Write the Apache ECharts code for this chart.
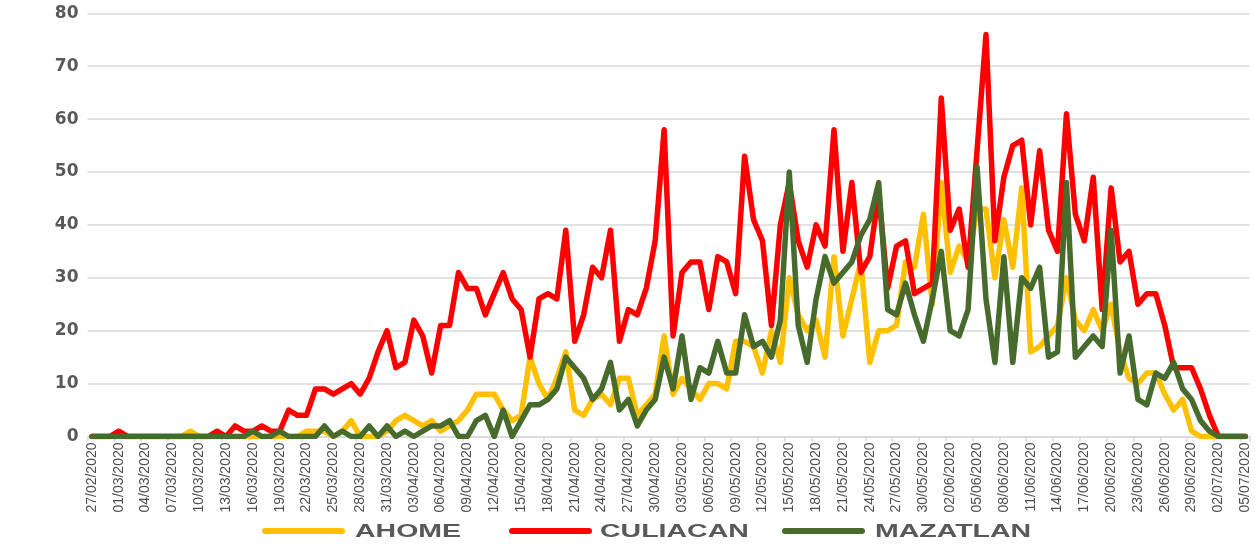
<!DOCTYPE html>
<html>
<head>
<meta charset="utf-8">
<script src="https://cdn.jsdelivr.net/npm/echarts@6/dist/echarts.min.js"></script>
<style>
  html, body { margin: 0; padding: 0; background: #ffffff; }
  #chart { width: 1255px; height: 549px; }
</style>
</head>
<body>
<div id="chart"></div>
<script>
// Daily dates, 27/02/2020 – 05/07/2020
const dates = [
  '27/02/2020','28/02/2020','29/02/2020',
  '01/03/2020','02/03/2020','03/03/2020','04/03/2020','05/03/2020','06/03/2020','07/03/2020','08/03/2020','09/03/2020','10/03/2020',
  '11/03/2020','12/03/2020','13/03/2020','14/03/2020','15/03/2020','16/03/2020','17/03/2020','18/03/2020','19/03/2020','20/03/2020',
  '21/03/2020','22/03/2020','23/03/2020','24/03/2020','25/03/2020','26/03/2020','27/03/2020','28/03/2020','29/03/2020','30/03/2020','31/03/2020',
  '01/04/2020','02/04/2020','03/04/2020','04/04/2020','05/04/2020','06/04/2020','07/04/2020','08/04/2020','09/04/2020','10/04/2020',
  '11/04/2020','12/04/2020','13/04/2020','14/04/2020','15/04/2020','16/04/2020','17/04/2020','18/04/2020','19/04/2020','20/04/2020',
  '21/04/2020','22/04/2020','23/04/2020','24/04/2020','25/04/2020','26/04/2020','27/04/2020','28/04/2020','29/04/2020','30/04/2020',
  '01/05/2020','02/05/2020','03/05/2020','04/05/2020','05/05/2020','06/05/2020','07/05/2020','08/05/2020','09/05/2020','10/05/2020',
  '11/05/2020','12/05/2020','13/05/2020','14/05/2020','15/05/2020','16/05/2020','17/05/2020','18/05/2020','19/05/2020','20/05/2020',
  '21/05/2020','22/05/2020','23/05/2020','24/05/2020','25/05/2020','26/05/2020','27/05/2020','28/05/2020','29/05/2020','30/05/2020','31/05/2020',
  '01/06/2020','02/06/2020','03/06/2020','04/06/2020','05/06/2020','06/06/2020','07/06/2020','08/06/2020','09/06/2020','10/06/2020',
  '11/06/2020','12/06/2020','13/06/2020','14/06/2020','15/06/2020','16/06/2020','17/06/2020','18/06/2020','19/06/2020','20/06/2020',
  '21/06/2020','22/06/2020','23/06/2020','24/06/2020','25/06/2020','26/06/2020','27/06/2020','28/06/2020','29/06/2020','30/06/2020',
  '01/07/2020','02/07/2020','03/07/2020','04/07/2020','05/07/2020'
];

// Daily new cases per municipality
const ahome = [
  0,0,0,0,0,0,0,0,0,0, 0,1,0,0,0,0,0,0,0,0,
  0,0,0,0,1,1,1,0,1,3, 0,0,0,1,3,4,3,2,3,1,
  2,3,5,8,8,8,5,3,4,15, 10,7,11,16,5,4,7,8,6,11,
  11,4,6,8,19,8,11,9,7,10, 10,9,18,18,17,12,20,14,30,23,
  20,22,15,34,19,26,33,14,20,20, 21,33,32,42,25,48,31,36,33,43,
  43,30,41,32,47,16,17,19,21,30, 22,20,24,20,25,16,11,10,12,12,
  8,5,7,1,0,0,0,0,0,0
];
const culiacan = [
  0,0,0,1,0,0,0,0,0,0, 0,0,0,0,1,0,2,1,1,2,
  1,1,5,4,4,9,9,8,9,10, 8,11,16,20,13,14,22,19,12,21,
  21,31,28,28,23,27,31,26,24,15, 26,27,26,39,18,23,32,30,39,18,
  24,23,28,37,58,19,31,33,33,24, 34,33,27,53,41,37,21,40,48,37,
  32,40,36,58,35,48,31,34,46,28, 36,37,27,28,29,64,39,43,32,54,
  76,37,49,55,56,40,54,39,35,61, 42,37,49,24,47,33,35,25,27,27,
  21,13,13,13,9,4,0,0,0,0
];
const mazatlan = [
  0,0,0,0,0,0,0,0,0,0, 0,0,0,0,0,0,0,0,1,0,
  0,1,0,0,0,0,2,0,1,0, 0,2,0,2,0,1,0,1,2,2,
  3,0,0,3,4,0,5,0,3,6, 6,7,9,15,13,11,7,9,14,5,
  7,2,5,7,15,9,19,7,13,12, 18,12,12,23,17,18,15,22,50,21,
  14,26,34,29,31,33,38,41,48,24, 23,29,23,18,26,35,20,19,24,51,
  26,14,34,14,30,28,32,15,16,48, 15,17,19,17,39,12,19,7,6,12,
  11,14,9,7,3,1,0,0,0,0
];

const seriesNames = ['AHOME', 'CULIACAN', 'MAZATLAN'];
const seriesColors = ['#FFC000', '#FF0000', '#466B2D'];
const seriesData = [ahome, culiacan, mazatlan];

const yTicks = { min: 0, max: 80, step: 10 };

const gray = '#595959';
const gridGray = '#D9D9D9';
const capsule = 'path://M3 0H80A3 3 0 0 1 80 6H3A3 3 0 0 1 3 0Z';

// legend swatch positions and the wide label placed after each one
const legendLefts = [262, 509, 782];
const legendTextLefts = [355, 600, 875];
const legendY = 531;

const chart = echarts.init(document.getElementById('chart'), null, { renderer: 'canvas' });

chart.setOption({
  backgroundColor: '#ffffff',
  animation: false,
  color: seriesColors,
  grid: { left: 87.5, right: 5.3, top: 13.3, bottom: 112.5 },
  legend: seriesNames.map((n, k) => ({
    data: [n],
    left: legendLefts[k],
    top: legendY - 3,
    padding: 0,
    itemWidth: 83,
    itemHeight: 6,
    icon: capsule,
    selectedMode: false,
    formatter: () => '',
    textStyle: { fontSize: 1 }
  })),
  graphic: seriesNames.map((n, k) => ({
    type: 'text',
    x: legendTextLefts[k],
    y: legendY + 1,
    scaleX: 1.5,
    silent: true,
    style: {
      text: n,
      fill: gray,
      fontFamily: 'Liberation Sans',
      fontWeight: 'bold',
      fontSize: 19,
      align: 'left',
      verticalAlign: 'middle'
    }
  })),
  xAxis: {
    type: 'category',
    data: dates,
    boundaryGap: true,
    axisLine: { lineStyle: { color: gridGray, width: 1.5 } },
    axisTick: { show: true, interval: 2, length: 5, lineStyle: { color: gridGray, width: 1.5 } },
    axisLabel: {
      interval: 2,
      rotate: 90,
      margin: 6,
      color: '#505050',
      fontFamily: 'Liberation Sans',
      fontSize: 14
    },
    splitLine: { show: false }
  },
  yAxis: {
    type: 'value',
    min: yTicks.min,
    max: yTicks.max,
    interval: yTicks.step,
    axisLine: { show: false },
    axisTick: { show: false },
    axisLabel: {
      color: gray,
      fontFamily: 'DejaVu Sans',
      fontWeight: 'bold',
      fontSize: 17,
      margin: 9
    },
    splitLine: { lineStyle: { color: gridGray, width: 1.5 } }
  },
  series: seriesNames.map((n, k) => ({
    name: n,
    type: 'line',
    data: seriesData[k],
    showSymbol: false,
    symbol: 'none',
    smooth: false,
    lineStyle: { width: 5.5, color: seriesColors[k], cap: 'round', join: 'round' },
    itemStyle: { color: seriesColors[k] },
    z: 2 + k
  }))
});
</script>
</body>
</html>
